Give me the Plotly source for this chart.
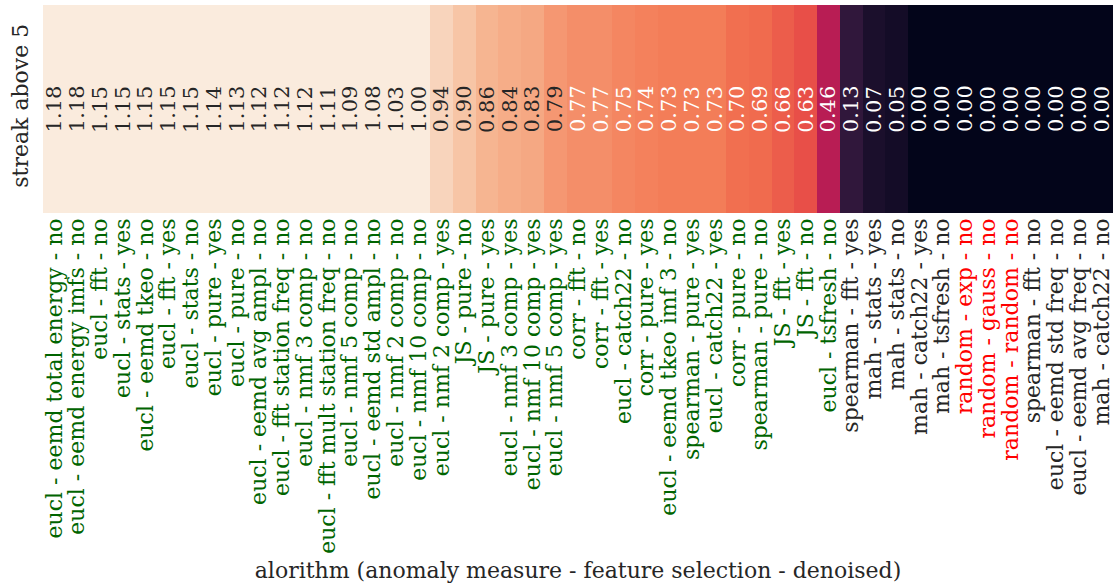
import plotly.graph_objects as go

labels = [
    "eucl - eemd total energy - no", "eucl - eemd energy imfs - no", "eucl - fft - no",
    "eucl - stats - yes", "eucl - eemd tkeo - no", "eucl - fft - yes", "eucl - stats - no",
    "eucl - pure - yes", "eucl - pure - no", "eucl - eemd avg ampl - no",
    "eucl - fft station freq - no", "eucl - nmf 3 comp - no", "eucl - fft mult station freq - no",
    "eucl - nmf 5 comp - no", "eucl - eemd std ampl - no", "eucl - nmf 2 comp - no",
    "eucl - nmf 10 comp - no", "eucl - nmf 2 comp - yes", "JS - pure - no", "JS - pure - yes",
    "eucl - nmf 3 comp - yes", "eucl - nmf 10 comp - yes", "eucl - nmf 5 comp - yes",
    "corr - fft - no", "corr - fft - yes", "eucl - catch22 - no", "corr - pure - yes",
    "eucl - eemd tkeo imf 3 - no", "spearman - pure - yes", "eucl - catch22 - yes",
    "corr - pure - no", "spearman - pure - no", "JS - fft - yes", "JS - fft - no",
    "eucl - tsfresh - no", "spearman - fft - yes", "mah - stats - yes", "mah - stats - no",
    "mah - catch22 - yes", "mah - tsfresh - no", "random - exp - no", "random - gauss - no",
    "random - random - no", "spearman - fft - no", "eucl - eemd std freq - no",
    "eucl - eemd avg freq - no", "mah - catch22 - no",
]
values = [
    1.18, 1.18, 1.15, 1.15, 1.15, 1.15, 1.15, 1.14, 1.13, 1.12, 1.12, 1.12, 1.11, 1.09,
    1.08, 1.03, 1.00, 0.94, 0.90, 0.86, 0.84, 0.83, 0.79, 0.77, 0.77, 0.75, 0.74, 0.73,
    0.73, 0.73, 0.70, 0.69, 0.66, 0.63, 0.46, 0.13, 0.07, 0.05, 0.00, 0.00, 0.00, 0.00,
    0.00, 0.00, 0.00, 0.00, 0.00,
]
label_groups = ["good"] * 35 + ["bad"] * 5 + ["random"] * 3 + ["bad"] * 4
row_label = "streak above 5"
x_title = "alorithm (anomaly measure - feature selection - denoised)"

group_colors = {"good": "#006400", "bad": "#262626", "random": "#ff0000"}

rocket = [
    [0.0, "#03051a"], [0.143, "#35193e"], [0.286, "#701f57"], [0.429, "#ad1759"],
    [0.571, "#e13342"], [0.714, "#f37651"], [0.857, "#f6b48f"], [1.0, "#faebdd"],
]

FONT = "DejaVu Serif"
FS = 22

idx = list(range(len(labels)))
fig = go.Figure(go.Heatmap(
    z=[values], x=idx, y=[0], colorscale=rocket, zmin=0, zmax=1,
    showscale=False, hoverinfo="skip",
))

for i, v in zip(idx, values):
    fig.add_annotation(
        x=i, y=0, text=f"{v:.2f}", textangle=-90, showarrow=False, borderpad=0,
        font=dict(family=FONT, size=21, color="#262626" if v > 0.78 else "#ffffff"),
    )

ticktext = [f'<span style="color:{group_colors[g]}">{t}</span>' for t, g in zip(labels, label_groups)]

fig.update_xaxes(
    tickvals=idx, ticktext=ticktext, tickangle=-90, ticks="", showgrid=False,
    zeroline=False, showline=False, tickfont=dict(family=FONT, size=FS),
    ticklabeloverflow="allow",
    title=dict(text=x_title, font=dict(family=FONT, size=FS, color="#262626"), standoff=9),
    range=[-0.5, len(labels) - 0.5],
)
fig.update_yaxes(
    tickvals=[0], ticktext=[row_label], tickangle=-90, ticks="", showgrid=False,
    zeroline=False, showline=False, tickfont=dict(family=FONT, size=FS, color="#262626"),
    ticklabelstandoff=10, ticklabeloverflow="allow",
    range=[-0.5, 0.5],
)
fig.update_layout(
    width=1113, height=587, margin=dict(l=43, r=0, t=5, b=374),
    plot_bgcolor="white", paper_bgcolor="white",
    font=dict(family=FONT, size=FS, color="#262626"),
)
fig.write_html("out.html")
